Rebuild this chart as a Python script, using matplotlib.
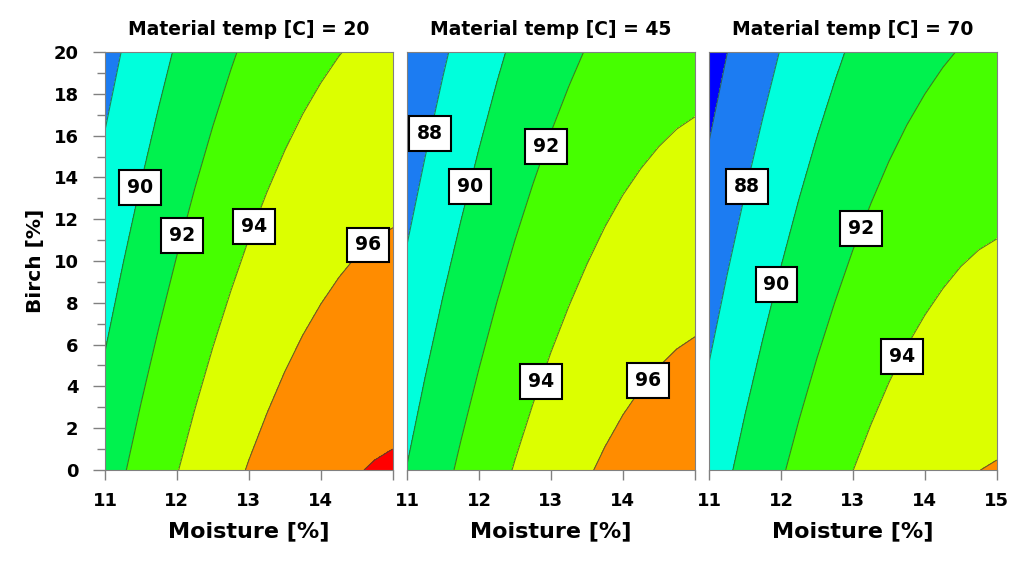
import matplotlib
matplotlib.use("Agg")
import matplotlib.pyplot as plt
import numpy as np
from matplotlib.colors import ListedColormap, BoundaryNorm

# grid the surfaces were read on
moisture = [11, 11.25, 11.5, 11.75, 12, 12.25, 12.5, 12.75, 13,
            13.25, 13.5, 13.75, 14, 14.25, 14.5, 14.75, 15]
birch = [0, 10, 20]
temps = [20, 45, 70]

# response values (rows = birch, cols = moisture)
resp_t20 = [
    [91.07, 91.86, 92.60, 93.29, 93.94, 94.55, 95.11, 95.62, 96.09,
     96.51, 96.89, 97.22, 97.50, 97.74, 97.94, 98.09, 98.19],
    [89.18, 89.97, 90.71, 91.40, 92.05, 92.66, 93.22, 93.73, 94.20,
     94.62, 95.00, 95.33, 95.61, 95.85, 96.05, 96.20, 96.30],
    [87.29, 88.08, 88.82, 89.51, 90.16, 90.77, 91.33, 91.84, 92.31,
     92.73, 93.11, 93.44, 93.72, 93.96, 94.16, 94.31, 94.41],
]
resp_t45 = [
    [90.05, 90.84, 91.58, 92.27, 92.92, 93.53, 94.09, 94.60, 95.07,
     95.49, 95.87, 96.21, 96.50, 96.74, 96.94, 97.10, 97.21],
    [88.15, 88.94, 89.68, 90.37, 91.02, 91.63, 92.19, 92.70, 93.17,
     93.59, 93.97, 94.31, 94.60, 94.84, 95.04, 95.20, 95.31],
    [86.25, 87.04, 87.78, 88.47, 89.12, 89.73, 90.29, 90.80, 91.27,
     91.69, 92.07, 92.41, 92.70, 92.94, 93.14, 93.30, 93.41],
]
resp_t70 = [
    [88.97, 89.76, 90.50, 91.19, 91.84, 92.45, 93.01, 93.52, 93.99,
     94.41, 94.79, 95.12, 95.40, 95.64, 95.84, 95.99, 96.09],
    [87.08, 87.87, 88.61, 89.30, 89.95, 90.56, 91.12, 91.63, 92.10,
     92.52, 92.90, 93.23, 93.51, 93.75, 93.95, 94.10, 94.20],
    [85.19, 85.98, 86.72, 87.41, 88.06, 88.67, 89.23, 89.74, 90.21,
     90.63, 91.01, 91.34, 91.62, 91.86, 92.06, 92.21, 92.31],
]

levels = [80, 86, 88, 90, 92, 94, 96, 98, 100]
fill_colors = ['#0000ff', '#1c7cf2', '#00ffdc', '#00f24e', '#46ff00',
               '#dcff00', '#ff8c00', '#ff0000']

# where the contour labels sit (moisture, birch)
labels_t20 = [(11.5, 13.5), (12.09, 11.2), (13.06, 11.66), (14.65, 10.8)]
labels_t45 = [(11.32, 16.1), (11.85, 13.6), (12.92, 15.5), (12.86, 4.23), (14.35, 4.28)]
labels_t70 = [(11.51, 13.58), (11.93, 8.9), (13.1, 11.58), (13.65, 5.48)]

xticks = [11, 12, 13, 14, 15]
yticks = [0, 2, 4, 6, 8, 10, 12, 14, 16, 18, 20]

cmap = ListedColormap(fill_colors)
norm = BoundaryNorm(levels, cmap.N)

fig = plt.figure(figsize=(10.24, 5.63), dpi=100)
lefts = [0.1025, 0.3975, 0.6924]
panels = [resp_t20, resp_t45, resp_t70]
label_sets = [labels_t20, labels_t45, labels_t70]

for i in range(3):
    ax = fig.add_axes([lefts[i], 0.1652, 0.281, 0.7424])
    X, Y = np.meshgrid(moisture, birch)
    Z = np.array(panels[i])
    ax.contourf(X, Y, Z, levels=levels, cmap=cmap, norm=norm)
    cs = ax.contour(X, Y, Z, levels=levels[1:-1], colors='#2e5530',
                    linewidths=0.8, alpha=0.75)
    txts = cs.clabel(fmt='%d', inline=False, manual=label_sets[i],
                     fontsize=13.5)
    for t in txts:
        t.set_rotation(0)
        t.set_fontweight('bold')
        t.set_color('black')
        t.set_zorder(10)
        t.set_bbox(dict(facecolor='white', edgecolor='black', linewidth=1.5,
                        boxstyle='square,pad=0.42'))

    ax.set_xlim(11, 15)
    ax.set_ylim(0, 20)
    for s in ax.spines.values():
        s.set_color('#808080')
    ax.set_xticks(xticks)
    if i < 2:
        ax.set_xticklabels(['11', '12', '13', '14', ''])
    ax.tick_params(axis='x', direction='out', length=7, width=1, color='#808080',
                   pad=9, labelsize=13)
    for lb in ax.get_xticklabels():
        lb.set_fontweight('bold')
    ax.set_xlabel('Moisture [%]', fontsize=16, fontweight='bold', labelpad=8)
    ax.set_title('Material temp [C] = %d' % temps[i], fontsize=13.5,
                 fontweight='bold', pad=12)
    if i == 0:
        ax.set_yticks(yticks)
        ax.set_yticks(range(1, 20, 2), minor=True)
        ax.tick_params(axis='y', which='major', direction='out', length=9,
                       width=1, color='#808080', pad=10, labelsize=13)
        ax.tick_params(axis='y', which='minor', direction='out', length=6,
                       width=1, color='#808080')
        for lb in ax.get_yticklabels():
            lb.set_fontweight('bold')
        ax.set_ylabel('Birch [%]', fontsize=14.5, fontweight='bold', labelpad=6)
    else:
        ax.set_yticks([])

fig.savefig('out.png', dpi=100)
